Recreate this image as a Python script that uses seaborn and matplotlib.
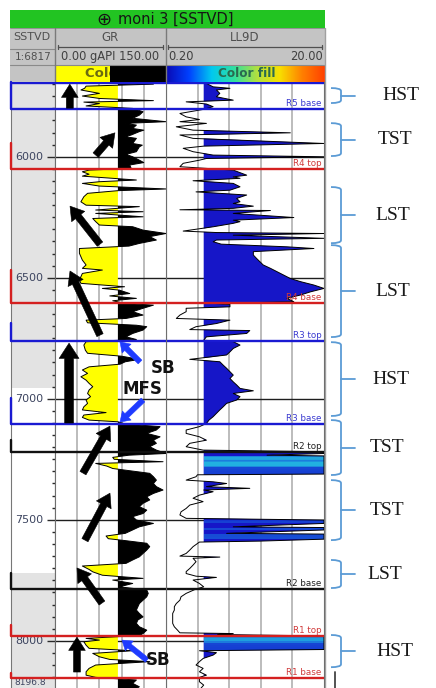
import numpy as np
import pandas as pd
import matplotlib
matplotlib.use("Agg")
import matplotlib.pyplot as plt
import matplotlib.transforms as mtransforms
from matplotlib.patches import Rectangle, PathPatch
from matplotlib.path import Path
from matplotlib.colors import LinearSegmentedColormap, LogNorm
from matplotlib.ticker import MultipleLocator, FixedLocator, NullLocator
import seaborn as sns

sns.set_style("white")
plt.rcParams["font.family"] = ["DejaVu Sans"]

# ---------------- data ----------------
WELL = "moni 3 [SSTVD]"
DEPTH_TOP, DEPTH_BASE = 5691, 8195
GR_MIN, GR_MAX, GR_CUTOFF = 0.0, 150.0, 85.0
RES_MIN, RES_MAX, RES_CUTOFF = 0.2, 20.0, 0.6

GR_DEPTH = [5691, 5700, 5708, 5717, 5724, 5738, 5749, 5759, 5768, 5774, 5780, 5790, 5800,
            5814, 5828, 5841, 5855, 5862, 5869, 5883, 5890, 5896, 5910, 5917, 5924, 5945,
            5952, 5959, 5979, 5990, 6000, 6014, 6024, 6034, 6048,
            6055, 6062, 6072, 6080, 6096, 6103, 6110, 6121, 6133, 6140, 6151, 6165, 6186,
            6200, 6206, 6220, 6227, 6234, 6248, 6255, 6268, 6282, 6289, 6303, 6317, 6330,
            6344, 6358, 6369, 6379, 6399, 6413, 6427, 6447, 6461, 6468, 6482, 6496, 6509,
            6523, 6537, 6544, 6551, 6565, 6575, 6585, 6595, 6606, 6613, 6626, 6640, 6654,
            6668, 6675, 6686, 6696, 6702, 6716, 6730, 6744, 6755,
            6764, 6778, 6799, 6812, 6824, 6837, 6847, 6857, 6868, 6881, 6895, 6909, 6923,
            6936, 6950, 6964, 6978, 6991, 7005, 7019, 7033, 7046, 7057, 7067, 7077, 7088,
            7095, 7104, 7115, 7129, 7143, 7157, 7171, 7184, 7198, 7212,
            7226, 7233, 7242, 7250, 7260, 7267, 7278, 7288, 7297, 7308, 7322, 7336, 7350,
            7363, 7377, 7391, 7405, 7418, 7432, 7446, 7460, 7474, 7487, 7501, 7515, 7529,
            7542, 7556, 7567, 7578, 7586, 7597, 7611, 7625, 7639, 7653, 7666, 7680, 7691,
            7705, 7715, 7729, 7742, 7749, 7763, 7777,
            7790, 7804, 7818, 7832, 7846, 7859, 7873, 7887, 7901, 7914, 7928, 7942, 7956,
            7970, 7978, 7990, 7997, 8004, 8018, 8031, 8041, 8052, 8066, 8077, 8086, 8100,
            8114, 8128, 8142, 8151, 8162, 8176, 8190, 8197]
GR_API = [42, 133, 42, 40, 35, 60, 37, 60, 133, 39, 60, 42, 105,
          119, 114, 105, 150, 95, 110, 105, 120, 114, 103, 95, 110, 105,
          118, 114, 110, 96, 105, 114, 120, 101, 103,
          46, 37, 46, 37, 110, 60, 37, 60, 150, 85, 44, 39, 35,
          42, 114, 55, 119, 55, 119, 51, 55, 60, 105, 119, 150, 128,
          137, 114, 100, 33, 33, 35, 37, 42, 37, 64, 37, 35, 33,
          35, 94, 64, 87, 101, 74, 110, 78, 95, 133, 119, 105, 119,
          96, 42, 44, 110, 124, 119, 105, 96, 110,
          42, 39, 41, 44, 90, 114, 95, 88, 46, 37, 44, 35, 42,
          46, 51, 46, 44, 48, 42, 44, 39, 37, 69, 39, 37, 46,
          85, 95, 142, 137, 124, 142, 133, 137, 128, 137,
          150, 100, 78, 80, 146, 55, 70, 78, 100, 128, 133, 137, 133,
          137, 146, 133, 124, 128, 119, 114, 124, 119, 105, 110, 133, 114,
          105, 95, 69, 72, 95, 124, 128, 124, 119, 114, 105, 96, 37,
          46, 51, 64, 119, 78, 105, 87,
          124, 126, 124, 119, 114, 112, 110, 114, 119, 112, 110, 114, 124,
          119, 114, 42, 60, 39, 42, 46, 105, 51, 60, 74, 128, 55,
          46, 42, 42, 55, 110, 105, 114, 110]

LL9D_DEPTH = [5691, 5697, 5711, 5717, 5724, 5738, 5752, 5766, 5773, 5782, 5793, 5804,
              5821, 5835, 5846, 5855, 5862, 5876, 5890, 5901, 5910, 5924, 5945, 5956,
              5965, 5979, 5993, 6000, 6007, 6014, 6027, 6041, 6048,
              6055, 6076, 6083, 6089, 6099, 6110, 6124, 6138, 6145, 6158, 6172, 6186,
              6193, 6204, 6213, 6219, 6222, 6234, 6251, 6262, 6268, 6275, 6289, 6307,
              6313, 6317, 6324, 6337, 6344, 6351, 6361, 6372, 6379, 6392, 6406, 6420,
              6434, 6447, 6461, 6475, 6489, 6503, 6516, 6530, 6544, 6558, 6571, 6585,
              6599, 6606, 6610, 6620, 6626, 6640, 6654, 6668, 6675, 6689, 6702, 6714,
              6718, 6730, 6744, 6758,
              6764, 6778, 6792, 6806, 6819, 6837, 6847, 6861, 6874, 6888, 6902, 6916,
              6930, 6943, 6957, 6967, 6978, 6991, 7005, 7019, 7033, 7046, 7060, 7074,
              7088, 7102, 7115, 7129, 7143, 7157, 7171, 7184, 7198, 7212,
              7219, 7226, 7233, 7236, 7241, 7247, 7253, 7258, 7262, 7270, 7276, 7280,
              7290, 7300, 7311, 7314, 7322, 7336, 7343, 7350, 7363, 7370, 7377, 7384,
              7398, 7411, 7425, 7439, 7453, 7467, 7480, 7494,
              7501, 7505, 7515, 7529, 7532, 7542, 7556, 7559, 7570, 7580, 7588, 7592,
              7611, 7625, 7639, 7650, 7654, 7659, 7673, 7687, 7701, 7714, 7722, 7733,
              7738, 7749, 7763, 7777, 7786, 7804, 7818, 7832, 7846, 7859, 7873, 7887,
              7901, 7914, 7928, 7942, 7956, 7967, 7970, 7974,
              7980, 7990, 8000, 8008, 8018, 8027, 8036, 8041, 8049, 8059, 8073, 8086,
              8100, 8114, 8128, 8142, 8151, 8169, 8183, 8197]
LL9D_OHMM = [0.65, 0.65, 0.79, 1.29, 0.87, 0.96, 0.87, 1.42, 0.36, 0.65, 0.79, 0.6,
             0.3, 0.36, 0.53, 0.3, 0.65, 0.27, 0.44, 7.5, 0.3, 0.44, 25, 0.6,
             0.33, 0.44, 0.79, 25, 0.65, 0.53, 0.33, 0.3, 0.65,
             1.42, 2.1, 1.42, 1.73, 0.44, 1.42, 1.73, 1.29, 0.48, 2.1, 1.57, 1.73,
             1.42, 2.55, 1.42, 0.3, 4.2, 1.42, 8.3, 1.42, 1.73, 1.42, 0.8, 0.33,
             0.87, 25, 1.42, 25, 0.87, 0.79, 1.0, 6.8, 14.9, 2.55, 2.55, 2.8,
             3.1, 3.4, 4.2, 5.1, 6.2, 7.5, 10.1, 14.9, 20, 13.5, 10.1, 6.8,
             8.3, 0.8, 1.29, 1.29, 0.36, 0.36, 0.3, 0.27, 1.29, 0.87, 0.48, 0.4,
             2.3, 2.1, 0.65, 0.6,
             1.42, 1.73, 1.42, 1.29, 1.17, 0.4, 0.96, 1.06, 1.17, 1.29, 1.42, 1.29,
             1.42, 1.57, 1.73, 2.55, 1.42, 1.73, 1.57, 1.17, 1.06, 0.96, 0.87, 0.79,
             0.7, 0.65, 0.53, 0.36, 0.36, 0.53, 0.65, 0.4, 0.36, 0.59,
             40, 50, 3.8, 60, 400, 600, 300, 80, 500, 700, 450, 60,
             45, 50, 40, 0.5, 0.48, 0.36, 0.79, 1.17, 0.65, 2.3, 0.6, 0.79,
             0.53, 0.44, 0.59, 0.4, 0.36, 0.31, 0.3, 0.36,
             30, 40, 50, 1.42, 45, 60, 1.17, 50, 70, 60, 3.1, 0.53,
             0.44, 0.4, 0.36, 0.3, 0.96, 0.44, 0.48, 0.44, 0.4, 0.36, 0.36, 0.48,
             0.87, 0.44, 0.53, 0.6, 0.48, 0.36, 0.31, 0.3, 0.27, 0.255, 0.255, 0.243,
             0.243, 0.243, 0.243, 0.255, 0.28, 0.3, 1.42, 0.9,
             30, 500, 300, 60, 40, 50, 35, 0.53, 0.87, 0.79, 0.59, 0.53,
             0.48, 0.59, 0.53, 0.65, 0.53, 0.53, 0.6, 0.55]

MARKER_NAMES = ["R5 top", "R5 base", "R4 top", "R4 base", "R3 top", "R3 base",
                "R2 top", "R2 base", "R1 top", "R1 base"]
MARKER_DEPTHS = [5694, 5803, 6051, 6605, 6762, 7105, 7220, 7786, 7980, 8154]
MARKER_KIND = ["blue", "blue", "red", "red", "blue", "blue", "black", "black", "red", "red"]
MARKER_LABELED = [False, True, True, True, True, True, True, True, True, True]

TRACT_LABELS = ["HST", "TST", "LST", "LST", "HST", "TST", "TST", "LST", "HST"]
TRACT_TOP = [5716, 5861, 6125, 6365, 6766, 7088, 7336, 7666, 7976]
TRACT_BASE = [5778, 5997, 6357, 6745, 7071, 7315, 7584, 7782, 8109]

DEPTH_SHADE = [(DEPTH_TOP, 6956), (7720, DEPTH_BASE)]
GR_GRID = [30, 60, 90, 120]

# annotation arrows in GR track: (tail GR, tail depth, head GR, head depth, kind)
GR_ARROWS = [(20, 5799, 20, 5700, "black"),
             (55, 5993, 81, 5901, "black"),
             (60.8, 6361, 20.3, 6204, "black"),
             (60.8, 6737, 20.3, 6472, "black"),
             (19, 7100, 19, 6770, "big"),
             (37.8, 7307, 74.3, 7113, "black"),
             (40.5, 7584, 74.3, 7390, "black"),
             (63.5, 7844, 29.7, 7699, "black"),
             (29.7, 8129, 29.7, 7985, "black"),
             (114.9, 6848, 87.8, 6765, "blue"),
             (118.9, 7005, 87.8, 7096, "blue"),
             (124.3, 8080, 90.5, 7997, "blue")]
GR_TEXTS = [("SB", 146, 6873), ("MFS", 117.5, 6960), ("SB", 139, 8080)]

# ---------------- styles / layout ----------------
W, H = 436, 688
TOP_PX = 82
LINE_COL = {"blue": "#1a1ad2", "red": "#d42020", "black": "#111111"}
TEXT_COL = {"blue": "#3a3ad0", "red": "#d03a3a", "black": "#222222"}
MARKER_TICK = [0, 110, 107, 136, 74, 107, 50, 66, 45, 21]
TRACT_LABEL_X = [57, 53, 50, 50, 47, 45, 45, 42, 51]
ARROW_STYLE = {
    "black": dict(style="simple,head_length=0.95,head_width=1.2,tail_width=0.5", ms=10, color="black"),
    "big": dict(style="simple,head_length=1.0,head_width=1.3,tail_width=0.58", ms=11, color="black"),
    "blue": dict(style="simple,head_length=0.75,head_width=1.0,tail_width=0.42", ms=9, color="#1f3bff"),
}

fig = plt.figure(figsize=(W / 100, H / 100), dpi=100)
fig.patch.set_facecolor("white")


def track(x0, x1, z):
    return fig.add_axes([x0 / W, 0, (x1 - x0) / W, (H - TOP_PX) / H], zorder=z)


hdr = fig.add_axes([0, 0, 1, 1], zorder=0)
ax_d = track(11, 55, 2)
ax_gr = track(55, 166, 4)
ax_ll = track(166, 324, 3)
ax_r = track(325, 436, 5)

# ---------------- header ----------------
hdr.set_xlim(0, W)
hdr.set_ylim(H, 0)
hdr.axis("off")


def rect(x0, y0, x1, y1, color, z=1):
    hdr.add_patch(Rectangle((x0, y0), x1 - x0, y1 - y0, facecolor=color, edgecolor="none", zorder=z))


rect(10, 10, 325, 28, "#22c422")
rect(10, 28, 325, 82, "#c4c4c4")
rect(55, 65, 110, 82, "#ffff00")
hdr.text(85, 73.5, "Color fill", ha="left", va="center", fontsize=9.5, fontweight="bold",
         color="#6b6b10", zorder=2)
rect(110, 65, 166, 82, "#000000", z=3)
spec = LinearSegmentedColormap.from_list(
    "spec", ["#0a0ab4", "#0040ff", "#00c8f0", "#30e0a0", "#b0e040", "#f8e000", "#ff8000", "#ff4000"])
hdr.imshow(np.linspace(0, 1, 256)[None, :], cmap=spec, aspect="auto",
           extent=(166, 324, 82, 65), zorder=2)
hdr.set_xlim(0, W)
hdr.set_ylim(H, 0)
hdr.text(247, 73.5, "Color fill", ha="center", va="center", fontsize=8.7, fontweight="bold",
         color="#2a6a50", zorder=4)
hdr.text(104, 19.5, "\u2295", ha="center", va="center", fontsize=13, color="#151515", zorder=4)
hdr.text(118, 19.5, "moni 3 [SSTVD]", ha="left", va="center", fontsize=10.5, color="#151515", zorder=4)
hc = "#505050"
hdr.text(32, 37.5, "SSTVD", ha="center", va="center", fontsize=8, color=hc, zorder=4)
hdr.text(110, 37.5, "GR", ha="center", va="center", fontsize=8.5, color=hc, zorder=4)
hdr.text(245, 37.5, "LL9D", ha="center", va="center", fontsize=8.5, color=hc, zorder=4)
hdr.text(33, 56.5, "1:6817", ha="center", va="center", fontsize=7.5, color=hc, zorder=4)
hdr.text(110.5, 56.5, "0.00 gAPI 150.00", ha="center", va="center", fontsize=8.3, color="#404040", zorder=4)
hdr.text(168, 56.5, "0.20", ha="left", va="center", fontsize=8.3, color="#404040", zorder=4)
hdr.text(323, 56.5, "20.00", ha="right", va="center", fontsize=8.3, color="#404040", zorder=4)
for x0, x1 in [(58, 163), (168, 322)]:
    hdr.plot([x0, x1], [46.5, 46.5], color="#505050", lw=0.9, zorder=4)
    hdr.plot([x0, x0], [45, 48.5], color="#505050", lw=0.9, zorder=4)
    hdr.plot([x1, x1], [45, 48.5], color="#505050", lw=0.9, zorder=4)
hdr.plot([10, 55], [48.5, 48.5], color="#8a8a8a", lw=0.8, zorder=4)
for xv in (55, 166):
    hdr.plot([xv, xv], [28, 82], color="#7a7a7a", lw=1.0, zorder=5)
hdr.plot([10, 325], [28, 28], color="#8a8a8a", lw=0.6, zorder=4)
hdr.plot([10, 325], [65, 65], color="#8a8a8a", lw=0.8, zorder=4)
hdr.plot([324.5, 324.5], [28, H], color="#a0a0a0", lw=1.0, zorder=4)

# ---------------- depth track ----------------
ax_d.set_facecolor("white")
for a, b in DEPTH_SHADE:
    ax_d.axhspan(a, b, color="#e3e3e3", lw=0, zorder=0)
ax_d.set_xlim(0, 1)
ax_d.set_ylim(DEPTH_BASE, DEPTH_TOP)
ax_d.yaxis.set_major_locator(MultipleLocator(500))
ax_d.yaxis.set_minor_locator(MultipleLocator(50))
ax_d.tick_params(axis="y", which="both", left=False, right=True, labelleft=False,
                 labelright=False, direction="in", color="#2a2a2a")
ax_d.tick_params(axis="y", which="major", length=5.5, width=1.0)
ax_d.tick_params(axis="y", which="minor", length=2.4, width=1.0)
ax_d.tick_params(axis="x", bottom=False, labelbottom=False)
bl_d = mtransforms.blended_transform_factory(ax_d.transAxes, ax_d.transData)
for t in ax_d.get_yticks():
    if DEPTH_TOP < t < DEPTH_BASE:
        ax_d.text(0.74, t, f"{t:.0f}", transform=bl_d, ha="right", va="center",
                  fontsize=8, color="#3d4560")
ax_d.text(0.07, 8172, f"{8196.8:.1f}", transform=bl_d, ha="left", va="center",
          fontsize=6.5, color="#3d4560")
ax_d.set_ylim(DEPTH_BASE, DEPTH_TOP)
for s in ("top", "bottom"):
    ax_d.spines[s].set_visible(False)
ax_d.spines["left"].set_color("#777777")
ax_d.spines["right"].set_color("#555555")

# ---------------- GR track ----------------
gr = pd.DataFrame({"depth": GR_DEPTH, "gr": GR_API}).astype(float)
dd, gv = gr["depth"].to_numpy(), gr["gr"].to_numpy()
ax_gr.fill_betweenx(dd, gv, GR_CUTOFF, where=gv <= GR_CUTOFF, interpolate=True,
                    color="#ffff00", lw=0, zorder=2)
ax_gr.fill_betweenx(dd, gv, GR_CUTOFF, where=gv >= GR_CUTOFF, interpolate=True,
                    color="#000000", lw=0, zorder=2)
sns.lineplot(data=gr, x="gr", y="depth", orient="y", sort=False, estimator=None,
             color="black", lw=0.7, ax=ax_gr, zorder=3)
ax_gr.set_xlim(GR_MIN, GR_MAX)
ax_gr.xaxis.set_major_locator(FixedLocator(GR_GRID))
ax_gr.grid(True, axis="x", color="#aaaaaa", lw=1.1)

# ---------------- LL9D track ----------------
ll = pd.DataFrame({"depth": LL9D_DEPTH, "res": LL9D_OHMM}).astype(float)
ll["shown"] = ll["res"].clip(upper=RES_MAX)
ax_ll.set_xscale("log")
ax_ll.set_xlim(RES_MIN, RES_MAX)
ld, lv, ls = ll["depth"].to_numpy(), ll["res"].to_numpy(), ll["shown"].to_numpy()
ax_ll.fill_betweenx(ld, RES_CUTOFF, ls, where=lv >= RES_CUTOFF, interpolate=True,
                    color="#1616c8", lw=0, zorder=2)
band_cmap = LinearSegmentedColormap.from_list("band", ["#1430d0", "#1a70dc", "#22b8e0"])
band_norm = LogNorm(30, 700, clip=True)
for i in range(len(lv) - 1):
    if lv[i] > RES_MAX and lv[i + 1] > RES_MAX:
        ax_ll.fill_betweenx([ld[i], ld[i + 1]], RES_CUTOFF, RES_MAX,
                            color=band_cmap(band_norm(0.5 * (lv[i] + lv[i + 1]))),
                            lw=0, zorder=2.1)
sns.lineplot(data=ll, x="shown", y="depth", orient="y", sort=False, estimator=None,
             color="black", lw=0.7, ax=ax_ll, zorder=3)
ax_ll.set_xlim(RES_MIN, RES_MAX)
ax_ll.xaxis.set_major_locator(FixedLocator([RES_MIN * 10 ** (0.4 * k) for k in range(1, 5)]))
ax_ll.xaxis.set_minor_locator(NullLocator())
ax_ll.grid(True, axis="x", which="major", color="#aaaaaa", lw=1.1)

for ax in (ax_gr, ax_ll):
    ax.set_facecolor("white")
    ax.set_ylim(DEPTH_BASE, DEPTH_TOP)
    ax.yaxis.set_major_locator(MultipleLocator(500))
    ax.grid(True, axis="y", color="#1e1e1e", lw=1.0)
    ax.set_axisbelow(True)
    ax.tick_params(which="both", length=0, labelbottom=False, labelleft=False)
    ax.set_xlabel("")
    ax.set_ylabel("")
    for s in ("top", "bottom"):
        ax.spines[s].set_visible(False)
    for s in ("left", "right"):
        ax.spines[s].set_color("#6e6e6e")

# ---------------- zone markers ----------------
bl_ll = mtransforms.blended_transform_factory(ax_ll.transAxes, ax_ll.transData)
for name, dep, kind, lab, tk in zip(MARKER_NAMES, MARKER_DEPTHS, MARKER_KIND,
                                    MARKER_LABELED, MARKER_TICK):
    col = LINE_COL[kind]
    for ax in (ax_d, ax_gr, ax_ll):
        ax.axhline(dep, color=col, lw=1.7, zorder=6)
    if tk:
        ax_d.plot([0.0, 0.0], [dep - tk, dep], transform=bl_d, color=col, lw=1.7,
                  clip_on=False, zorder=6)
    if lab:
        ax_ll.annotate(name, xy=(0.985, dep), xycoords=bl_ll, xytext=(0, 0.8),
                       textcoords="offset points", ha="right", va="bottom",
                       fontsize=6.3, color=TEXT_COL[kind], zorder=7)

# ---------------- annotation arrows / text ----------------
for tx, td, hx, hd, kind in GR_ARROWS:
    st = ARROW_STYLE[kind]
    ax_gr.annotate("", xy=(hx, hd), xytext=(tx, td),
                   arrowprops=dict(arrowstyle=st["style"], mutation_scale=st["ms"],
                                   fc=st["color"], ec=st["color"], lw=0.4,
                                   shrinkA=0, shrinkB=0),
                   annotation_clip=False, zorder=8)
for txt, x, y in GR_TEXTS:
    ax_gr.text(x, y, txt, ha="center", va="center", fontsize=12, fontweight="bold",
               color="#111111", clip_on=False, zorder=9)

# ---------------- systems-tract braces ----------------
ax_r.set_xlim(0, 111)
ax_r.set_ylim(DEPTH_BASE, DEPTH_TOP)
ax_r.axis("off")
r = 12
for lab, top, base, lx in zip(TRACT_LABELS, TRACT_TOP, TRACT_BASE, TRACT_LABEL_X):
    mid = 0.5 * (top + base)
    verts = [(6, top), (16, top), (16, top + r), (16, base - r), (16, base), (6, base)]
    codes = [Path.MOVETO, Path.CURVE3, Path.CURVE3, Path.LINETO, Path.CURVE3, Path.CURVE3]
    ax_r.add_patch(PathPatch(Path(verts, codes), fill=False, ec="#5b9bd5", lw=1.3))
    ax_r.plot([16, 30], [mid, mid], color="#5b9bd5", lw=1.3)
    ax_r.text(lx, mid, lab, ha="left", va="center", fontsize=14,
              family=["Liberation Serif", "DejaVu Serif"], color="#1a1a1a")
ax_r.plot([10, 10], [8129, DEPTH_BASE], color="#444444", lw=1.3)

fig.savefig("out.png", dpi=100)
